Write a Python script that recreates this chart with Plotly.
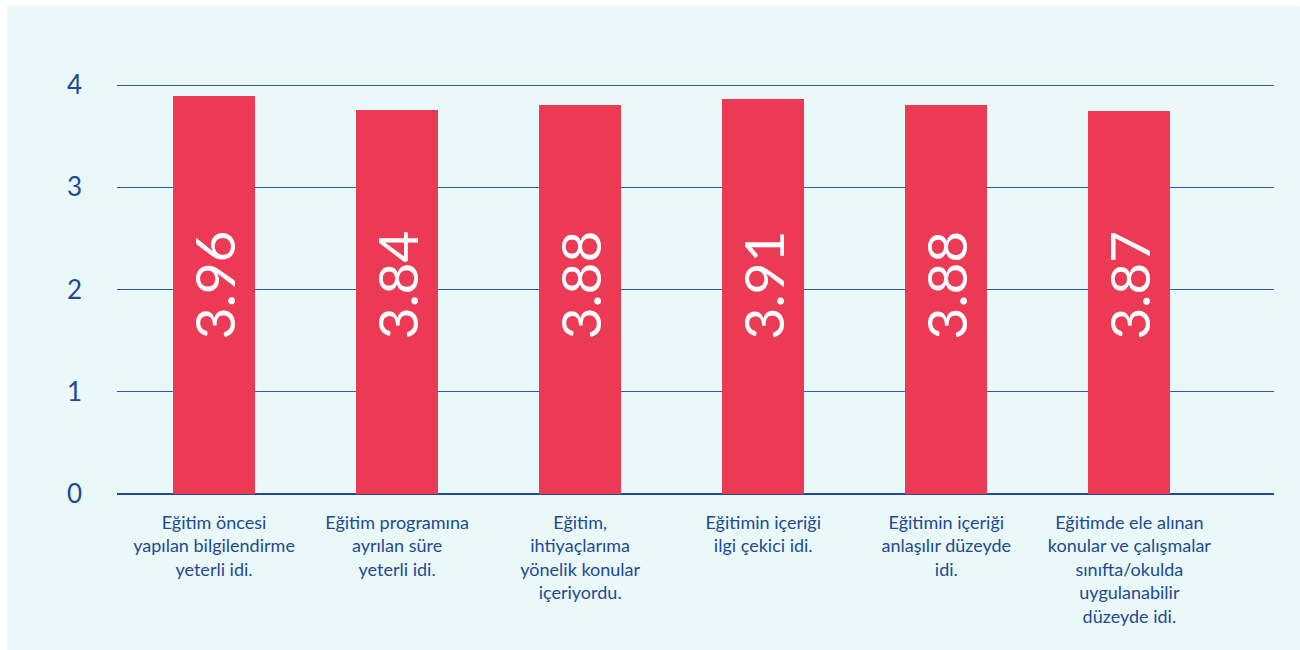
import plotly.graph_objects as go

categories = [
    "Eğitim öncesi<br>yapılan bilgilendirme<br>yeterli idi.",
    "Eğitim programına<br>ayrılan süre<br>yeterli idi.",
    "Eğitim,<br>ihtiyaçlarıma<br>yönelik konular<br>içeriyordu.",
    "Eğitimin içeriği<br>ilgi çekici idi.",
    "Eğitimin içeriği<br>anlaşılır düzeyde<br>idi.",
    "Eğitimde ele alınan<br>konular ve çalışmalar<br>sınıfta/okulda<br>uygulanabilir<br>düzeyde idi.",
]
bar_heights = [3.89, 3.76, 3.80, 3.86, 3.80, 3.75]
value_labels = ["3.96", "3.84", "3.88", "3.91", "3.88", "3.87"]
y_ticks = [0, 1, 2, 3, 4]

BAR = "#EC3A55"
BLUE = "#1E4A93"
FONT = "Lato"

fig = go.Figure()
fig.add_trace(go.Bar(
    x=list(range(len(categories))),
    y=bar_heights,
    marker=dict(color=BAR, line=dict(width=0)),
    width=0.448,
    hoverinfo="skip",
))

for i, lab in enumerate(value_labels):
    fig.add_annotation(
        x=i, y=1.49, xref="x", yref="y",
        text=lab, textangle=-90, showarrow=False,
        yanchor="bottom", xanchor="center",
        font=dict(family=FONT, size=55, color="white"),
    )

fig.add_shape(type="rect", xref="paper", yref="paper",
              x0=-110/1157, x1=1 + 40/1157, y0=-180/410, y1=1 + 78/410,
              fillcolor="#EAF8FA", line=dict(width=0), layer="below")

fig.update_layout(
    width=1300, height=650,
    margin=dict(l=117, r=26, t=84, b=156),
    paper_bgcolor="white",
    plot_bgcolor="rgba(0,0,0,0)",
    showlegend=False,
    bargap=0,
    xaxis=dict(
        range=[-0.53, 5.79],
        tickmode="array",
        tickvals=list(range(len(categories))),
        ticktext=categories,
        tickfont=dict(family=FONT, size=18, color=BLUE),
        showgrid=False, zeroline=False, showline=False,
        ticks="", ticklabelstandoff=16,
    ),
    yaxis=dict(
        range=[0, 4.01],
        tickmode="array",
        tickvals=y_ticks,
        ticktext=[str(v) for v in y_ticks],
        tickfont=dict(family=FONT, size=26, color=BLUE),
        showgrid=True, gridcolor="#2D5DAA", gridwidth=1.2,
        zeroline=True, zerolinecolor="#234A94", zerolinewidth=2,
        showline=False, ticks="", ticklabelstandoff=34,
    ),
)

fig.write_html("out.html",
               config={"displayModeBar": False},
               post_script="document.body.style.margin='0';document.body.style.overflow='hidden';")
